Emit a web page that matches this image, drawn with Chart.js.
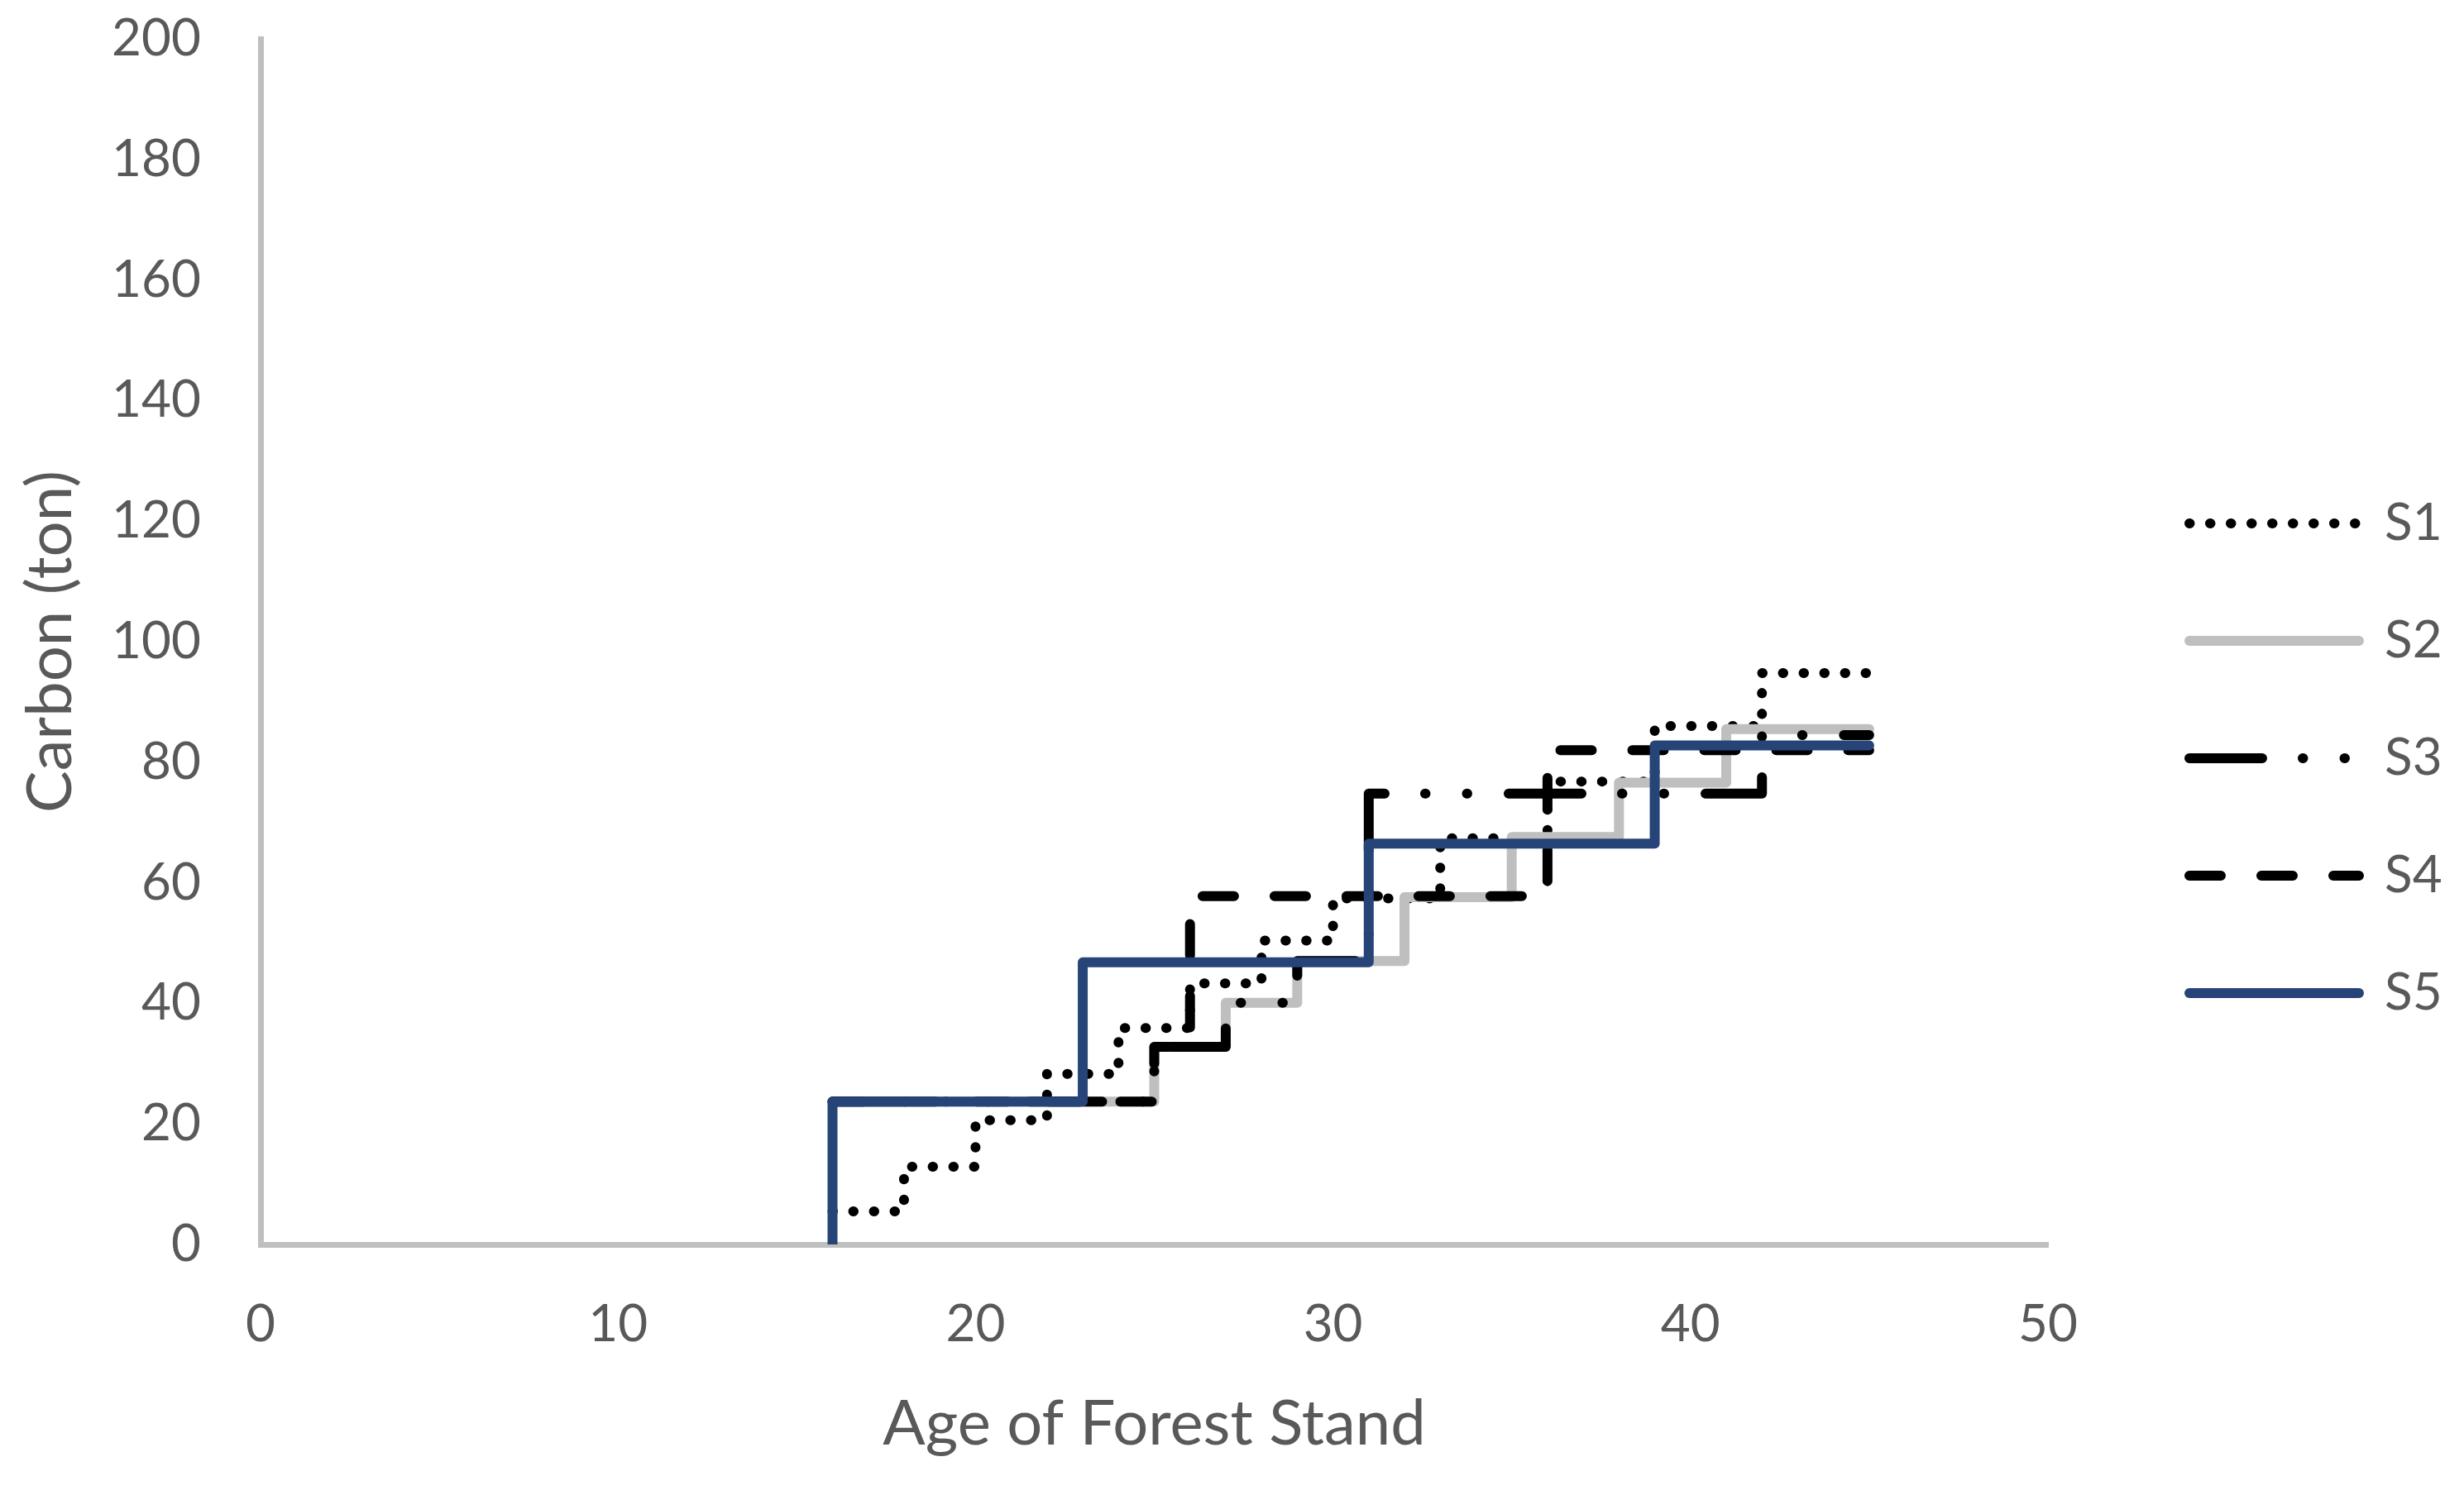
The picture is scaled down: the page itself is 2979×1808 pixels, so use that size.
<!DOCTYPE html>
<html>
<head>
<meta charset="utf-8">
<script src="https://cdn.jsdelivr.net/npm/chart.js@4.4.1/dist/chart.umd.min.js"></script>
<style>
    html, body { margin: 0; padding: 0; background: #ffffff; }
    #wrap { width: 2979px; height: 1808px; }
</style>
</head>
<body>
<div id="wrap"><canvas id="stepChart"></canvas></div>

<script>
/************************************************************
 *  CARBON vs AGE OF FOREST STAND (step lines, 5 scenarios)
 ************************************************************/

// --- data (age -> carbon level starting at that age)
const s1Age    = [16, 18, 20, 22, 24, 26, 28, 30, 33, 36, 39, 42, 45];
const s1Carbon = [5.5, 12.9, 20.6, 28.3, 35.9, 43.3, 50.4, 57.4, 67.4, 76.8, 86.0, 94.8, 94.8];

const s2Age    = [16, 25, 27, 29, 32, 35, 38, 41, 45];
const s2Carbon = [23.7, 32.8, 40.1, 47.0, 57.6, 67.6, 76.6, 85.5, 85.5];

const s3Age    = [16, 25, 27, 29, 31, 42, 45];
const s3Carbon = [23.7, 32.8, 40.1, 47.0, 74.8, 84.5, 84.5];

const s4Age    = [16, 25, 26, 36, 45];
const s4Carbon = [23.7, 32.8, 57.8, 82.0, 82.0];

const s5Age    = [16, 16, 23, 31, 39, 45];
const s5Carbon = [0, 23.7, 46.8, 66.5, 82.8, 82.8];

const seriesNames = ["S1", "S2", "S3", "S4", "S5"];
const xTicks = [0, 10, 20, 30, 40, 50];
const yTicks = [0, 20, 40, 60, 80, 100, 120, 140, 160, 180, 200];

document.addEventListener("DOMContentLoaded", () => {

    const textColor = "#595959";
    const axisColor = "#BFBFBF";
    const fontFamily = "Lato, 'Open Sans', sans-serif";

    const toPoints = (ages, carbon) => ages.map((a, i) => ({ x: a, y: carbon[i] }));

    /* -------------------------------------------------------
     * 1. DATASETS (later series drawn on top, like Excel)
     * ----------------------------------------------------- */
    const common = {
        stepped: true,
        borderWidth: 12,
        borderCapStyle: "round",
        borderJoinStyle: "round",
        pointRadius: 0,
        pointHoverRadius: 0,
        fill: false
    };

    const datasets = [
        { ...common, label: seriesNames[0], data: toPoints(s1Age, s1Carbon),
          borderColor: "#000000", borderDash: [0.5, 24.5], order: 5 },
        { ...common, label: seriesNames[1], data: toPoints(s2Age, s2Carbon),
          borderColor: "#BFBFBF", borderDash: [], order: 4 },
        { ...common, label: seriesNames[2], data: toPoints(s3Age, s3Carbon),
          borderColor: "#000000", borderDash: [88, 49, 0.5, 50, 0.5, 50], order: 3 },
        { ...common, label: seriesNames[3], data: toPoints(s4Age, s4Carbon),
          borderColor: "#000000", borderDash: [38, 49], order: 2 },
        { ...common, label: seriesNames[4], data: toPoints(s5Age, s5Carbon),
          borderColor: "#264478", borderDash: [], order: 1 }
    ];

    /* -------------------------------------------------------
     * 2. SMALL PLUGIN: nudge legend block to Excel's spot
     * ----------------------------------------------------- */
    const legendNudge = {
        id: "legendNudge",
        afterLayout(chart) {
            const lg = chart.legend;
            if (!lg) return;
            lg.left += 91; lg.right += 91;
            lg.top += 13; lg.bottom += 13;
        }
    };

    // legend samples use the dataset's line style (not the point style)
    const legendLabels = chart => {
        const items = Chart.defaults.plugins.legend.labels.generateLabels(chart);
        items.forEach(item => {
            const ds = chart.data.datasets[item.datasetIndex];
            item.lineDash = ds.borderDash;
            item.lineCap = "round";
            item.lineWidth = ds.borderWidth;
            item.strokeStyle = ds.borderColor;
            item.fillStyle = ds.borderColor;
        });
        return items;
    };

    /* -------------------------------------------------------
     * 3. CHART
     * ----------------------------------------------------- */
    const ctx = document.getElementById("stepChart").getContext("2d");

    new Chart(ctx, {
        type: "line",
        data: { datasets: datasets },
        plugins: [legendNudge],
        options: {
            responsive: true,
            maintainAspectRatio: false,
            animation: false,
            devicePixelRatio: 1,
            layout: { padding: 0 },
            plugins: {
                tooltip: { enabled: false },
                legend: {
                    position: "right",
                    labels: {
                        usePointStyle: true,
                        pointStyle: "line",
                        pointStyleWidth: 205,
                        padding: 80,
                        color: textColor,
                        font: { family: fontFamily, size: 62 },
                        generateLabels: legendLabels,
                        sort: (a, b) => a.datasetIndex - b.datasetIndex
                    }
                }
            },
            scales: {
                x: {
                    type: "linear",
                    min: xTicks[0],
                    max: xTicks[xTicks.length - 1],
                    afterBuildTicks: s => { s.ticks = xTicks.map(v => ({ value: v })); },
                    grid: { display: false, drawTicks: false },
                    border: { display: true, color: axisColor, width: 7 },
                    ticks: {
                        padding: 60,
                        color: textColor,
                        font: { family: fontFamily, size: 62 }
                    },
                    title: {
                        display: true,
                        text: "Age of Forest Stand",
                        color: textColor,
                        font: { family: fontFamily, size: 76 },
                        padding: { top: 0, bottom: 40 }
                    },
                    afterFit: s => {
                        s.height = 303;
                        s.paddingLeft = 0;
                        s.paddingRight = 503;
                    }
                },
                y: {
                    min: yTicks[0],
                    max: yTicks[yTicks.length - 1],
                    afterBuildTicks: s => { s.ticks = yTicks.map(v => ({ value: v })); },
                    grid: { display: false, drawTicks: false },
                    border: { display: true, color: axisColor, width: 7 },
                    ticks: {
                        padding: 72,
                        color: textColor,
                        font: { family: fontFamily, size: 62 }
                    },
                    title: {
                        display: true,
                        text: "Carbon (ton)",
                        color: textColor,
                        font: { family: fontFamily, size: 76 },
                        padding: { top: 16, bottom: 0 }
                    },
                    afterFit: s => {
                        s.width = 315;
                        s.paddingTop = 47;
                    }
                }
            }
        }
    });
});
</script>
</body>
</html>
